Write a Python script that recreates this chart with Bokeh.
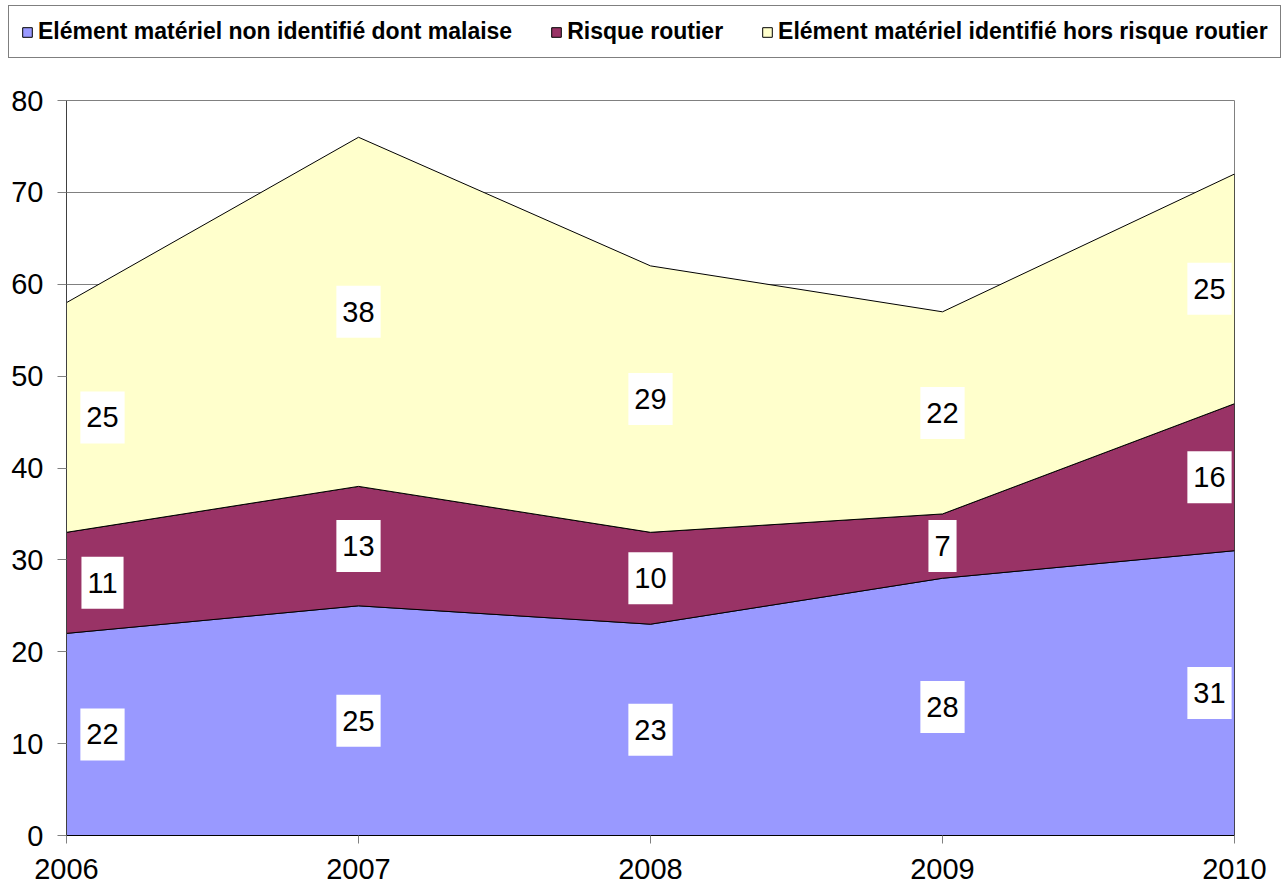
from bokeh.plotting import figure
from bokeh.layouts import column
from bokeh.models import Legend, LegendItem, ColumnDataSource, FixedTicker, Range1d
from bokeh.embed import file_html
from bokeh.resources import INLINE
from bokeh.core.properties import value

# ---- data ----
years = [2006, 2007, 2008, 2009, 2010]
series_names = [
    "Elément matériel non identifié dont malaise",
    "Risque routier",
    "Elément matériel identifié hors risque routier",
]
malaise = [22, 25, 23, 28, 31]
risque_routier = [11, 13, 10, 7, 16]
hors_risque_routier = [25, 38, 29, 22, 25]
y_ticks = [0, 10, 20, 30, 40, 50, 60, 70, 80]

series = [malaise, risque_routier, hors_risque_routier]
colors = ["#9999FF", "#993366", "#FFFFCC"]
FONT = "Liberation Sans"

W = 1283
LEG_H = 80
MAIN_H = 892 - LEG_H

# ---- legend strip ----
pl = figure(
    width=W, height=LEG_H, x_range=Range1d(0, 1), y_range=Range1d(0, 1),
    output_backend="svg", toolbar_location=None,
    x_axis_type=None, y_axis_type=None,
    min_border=0, min_border_left=0, min_border_right=0, min_border_top=0, min_border_bottom=0,
    background_fill_color="white", border_fill_color="white",
)
pl.outline_line_color = None
pl.xgrid.visible = False
pl.ygrid.visible = False
# swatch renderers for the legend (their geometry lies outside the visible range)
leg_renderers = [
    pl.patch(x=[-3, -2, -2], y=[-3, -3, -2], fill_color=c, line_color="black", line_width=1)
    for c in colors
]
legend = Legend(
    items=[LegendItem(label=nm, renderers=[r]) for nm, r in zip(series_names, leg_renderers)],
    orientation="horizontal", location=(8, LEG_H - 58),
    border_line_color="black", border_line_width=1,
    label_text_font=FONT, label_text_font_style="bold", label_text_font_size="23px",
    label_text_color="black",
    glyph_width=12, glyph_height=12, spacing=38, padding=12, margin=0,
    label_standoff=5, label_height=24,
    background_fill_color="white", background_fill_alpha=1,
)
pl.add_layout(legend, "center")

# ---- main chart ----
p = figure(
    width=W, height=MAIN_H,
    x_range=Range1d(years[0], years[-1]), y_range=Range1d(0, 80),
    output_backend="svg", toolbar_location=None,
    min_border_left=66, min_border_right=49, min_border_top=100 - LEG_H, min_border_bottom=57,
    background_fill_color="white", border_fill_color="white",
)
p.outline_line_color = "#808080"
p.outline_line_width = 1

bottom = [0] * len(years)
lab_x, lab_y, lab_t, lab_off = [], [], [], []
for vals, color in zip(series, colors):
    top = [b + v for b, v in zip(bottom, vals)]
    xs = years + years[::-1]
    ys = top + bottom[::-1]
    p.patch(xs, ys, fill_color=color, line_color="black", line_width=1)
    n = len(years)
    for i, (yr, b, v) in enumerate(zip(years, bottom, vals)):
        lab_x.append(yr)
        lab_y.append(b + v / 2)
        lab_t.append(str(v))
        lab_off.append(36 if i == 0 else (-25 if i == n - 1 else 0))
    bottom = top

src = ColumnDataSource(dict(x=lab_x, y=lab_y, t=lab_t, off=lab_off))
p.text(
    x="x", y="y", text="t", x_offset="off", source=src,
    text_font=value(FONT), text_font_size="29px", text_color="black",
    text_align="center", text_baseline="middle",
    background_fill_color="white",
    padding=dict(left=6, right=6, top=16, bottom=16),
)

p.xaxis.ticker = FixedTicker(ticks=years)
p.yaxis.ticker = FixedTicker(ticks=y_ticks)
for ax in (p.xaxis, p.yaxis):
    ax.major_label_text_font = FONT
    ax.major_label_text_font_size = "29px"
    ax.major_label_text_color = "black"
    ax.major_tick_in = 0
    ax.minor_tick_line_color = None
    ax.major_tick_line_color = "#808080"
p.xaxis.major_tick_out = 8
p.xaxis.major_label_standoff = 15
p.xaxis.axis_line_color = "black"
p.yaxis.major_tick_out = 9
p.yaxis.major_label_standoff = 14
p.yaxis.axis_line_color = "#404040"

p.xgrid.grid_line_color = None
p.ygrid.grid_line_color = "#808080"
p.ygrid.grid_line_width = 1

layout = column(column(pl, spacing=0), p, spacing=0)
open("out.html", "w").write(file_html(layout, INLINE))
